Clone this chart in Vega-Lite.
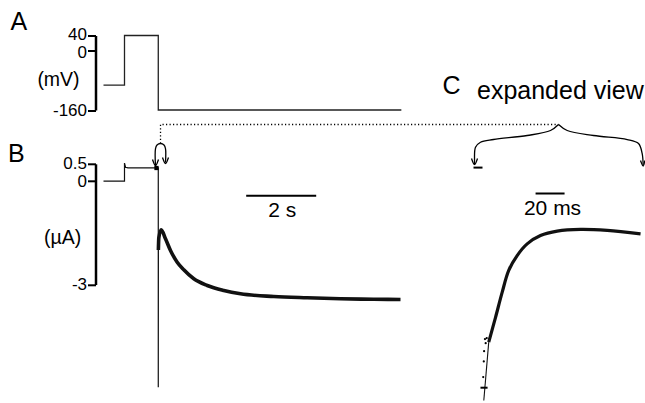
{
  "$schema": "https://vega.github.io/schema/vega-lite/v6.json",
  "padding": {"left": 7.5, "top": 9.5, "right": 0, "bottom": 0},
  "bounds": "flush",
  "spacing": 53.3,
  "config": {
    "view": {"stroke": null},
    "font": "Liberation Sans",
    "text": {"font": "Liberation Sans", "color": "black"},
    "axis": {
      "labelFont": "Liberation Sans", "labelFontSize": 17, "labelColor": "black",
      "titleFont": "Liberation Sans", "titleFontSize": 19.5, "titleFontWeight": "normal", "titleColor": "black",
      "tickSize": 8, "tickWidth": 2, "tickColor": "black",
      "domainWidth": 2.5, "domainColor": "black",
      "labelPadding": 1, "grid": false, "labelFlush": false, "labelOverlap": false, "labelSeparation": 0,
      "labelExpr": "toString(datum.value)"
    }
  },
  "datasets": {
    "a": [
      {"o": 1, "t": 0, "v": -93},
      {"o": 2, "t": 0.6, "v": -93},
      {"o": 3, "t": 0.6, "v": 40},
      {"o": 4, "t": 1.565, "v": 40},
      {"o": 5, "t": 1.565, "v": -160},
      {"o": 6, "t": 8.51, "v": -160}
    ],
    "lblA": [{"t": -2.657, "v": 56.1, "label": "A"}],
    "b": [
      {"part": "thin", "o": 1, "t": 0, "I": 0},
      {"part": "thin", "o": 2, "t": 0.6, "I": 0},
      {"part": "thin", "o": 3, "t": 0.6, "I": 0.52},
      {"part": "thin", "o": 4, "t": 0.63, "I": 0.4},
      {"part": "thin", "o": 5, "t": 0.7, "I": 0.38},
      {"part": "thin", "o": 6, "t": 1.565, "I": 0.38},
      {"part": "thin", "o": 7, "t": 1.565, "I": -5.975},
      {"part": "thin", "o": 8, "t": 1.568, "I": -2.0},
      {"part": "thick", "o": 1, "t": 1.568, "I": -2.0},
      {"part": "thick", "o": 2, "t": 1.58, "I": -1.65},
      {"part": "thick", "o": 3, "t": 1.649, "I": -1.413},
      {"part": "thick", "o": 4, "t": 1.771, "I": -1.674},
      {"part": "thick", "o": 5, "t": 1.914, "I": -2.013},
      {"part": "thick", "o": 6, "t": 2.106, "I": -2.352},
      {"part": "thick", "o": 7, "t": 2.294, "I": -2.572},
      {"part": "thick", "o": 8, "t": 2.58, "I": -2.833},
      {"part": "thick", "o": 9, "t": 2.963, "I": -3.028},
      {"part": "thick", "o": 10, "t": 3.437, "I": -3.172},
      {"part": "thick", "o": 11, "t": 3.914, "I": -3.268},
      {"part": "thick", "o": 12, "t": 4.866, "I": -3.346},
      {"part": "thick", "o": 13, "t": 5.82, "I": -3.384},
      {"part": "thick", "o": 14, "t": 6.771, "I": -3.413},
      {"part": "thick", "o": 15, "t": 7.723, "I": -3.425},
      {"part": "thick", "o": 16, "t": 8.486, "I": -3.433}
    ],
    "bdot": [{"t": 1.514, "I": 0.378}],
    "sbrace": [
      {"g": "arc", "o": 1, "t": 1.486, "I": 0.422},
      {"g": "arc", "o": 2, "t": 1.486, "I": 0.943},
      {"g": "arc", "o": 3, "t": 1.529, "I": 1.045},
      {"g": "arc", "o": 4, "t": 1.629, "I": 1.088},
      {"g": "arc", "o": 5, "t": 1.729, "I": 1.045},
      {"g": "arc", "o": 6, "t": 1.771, "I": 0.943},
      {"g": "arc", "o": 7, "t": 1.771, "I": 0.538},
      {"g": "al", "o": 1, "t": 1.4, "I": 0.625},
      {"g": "al", "o": 2, "t": 1.486, "I": 0.451},
      {"g": "al", "o": 3, "t": 1.571, "I": 0.625},
      {"g": "ar", "o": 1, "t": 1.686, "I": 0.683},
      {"g": "ar", "o": 2, "t": 1.771, "I": 0.509},
      {"g": "ar", "o": 3, "t": 1.857, "I": 0.683}
    ],
    "dotted": [
      {"o": 1, "t": 1.629, "I": 1.088},
      {"o": 2, "t": 1.629, "I": 1.639},
      {"o": 3, "t": 13.0, "I": 1.639}
    ],
    "bar2s": [{"t": 4.077, "t2": 6.077, "I": -0.4275}],
    "lblB": [
      {"t": -2.729, "I": 0.546, "label": "B", "kind": "letter"},
      {"t": 5.106, "I": -0.854, "label": "2 s", "kind": "scale"}
    ],
    "c": [
      {"part": "thin", "o": 1, "ms": 0, "I": -6.36},
      {"part": "thin", "o": 2, "ms": 3.4, "I": -4.67},
      {"part": "thick", "o": 1, "ms": 3.4, "I": -4.67},
      {"part": "thick", "o": 2, "ms": 8.1, "I": -3.95},
      {"part": "thick", "o": 3, "ms": 12.7, "I": -3.22},
      {"part": "thick", "o": 4, "ms": 17.2, "I": -2.59},
      {"part": "thick", "o": 5, "ms": 23.0, "I": -2.16},
      {"part": "thick", "o": 6, "ms": 29.9, "I": -1.82},
      {"part": "thick", "o": 7, "ms": 39.1, "I": -1.58},
      {"part": "thick", "o": 8, "ms": 50.6, "I": -1.45},
      {"part": "thick", "o": 9, "ms": 66.7, "I": -1.4},
      {"part": "thick", "o": 10, "ms": 85.1, "I": -1.43},
      {"part": "thick", "o": 11, "ms": 108.1, "I": -1.53}
    ],
    "cdots": [
      {"ms": 2.0, "I": -4.55},
      {"ms": 1.3, "I": -4.7},
      {"ms": 0.8, "I": -4.58},
      {"ms": 0.2, "I": -4.93},
      {"ms": 0.0, "I": -5.23},
      {"ms": -0.4, "I": -5.68}
    ],
    "cticks": [
      {"kind": "tick", "ms": -2.3, "ms2": 2.6, "I": -5.99},
      {"kind": "dash", "ms": -7.1, "ms2": -0.9, "I": 0.39},
      {"kind": "bar", "ms": 35.7, "ms2": 55.7, "I": -0.361}
    ],
    "bbrace": [
      {"g": "L", "o": 1, "ms": 51.52, "I": 1.639},
      {"g": "L", "o": 2, "ms": 46.0, "I": 1.465},
      {"g": "L", "o": 3, "ms": 29.93, "I": 1.32},
      {"g": "L", "o": 4, "ms": 6.69, "I": 1.204},
      {"g": "L", "o": 5, "ms": -2.28, "I": 1.126},
      {"g": "L", "o": 6, "ms": -5.72, "I": 0.981},
      {"g": "L", "o": 7, "ms": -6.41, "I": 0.596},
      {"g": "L", "o": 8, "ms": -6.41, "I": 0.48},
      {"g": "R", "o": 1, "ms": 51.52, "I": 1.639},
      {"g": "R", "o": 2, "ms": 57.52, "I": 1.465},
      {"g": "R", "o": 3, "ms": 75.66, "I": 1.32},
      {"g": "R", "o": 4, "ms": 98.9, "I": 1.204},
      {"g": "R", "o": 5, "ms": 106.7, "I": 1.088},
      {"g": "R", "o": 6, "ms": 109.2, "I": 0.799},
      {"g": "R", "o": 7, "ms": 109.9, "I": 0.45},
      {"g": "aL", "o": 1, "ms": -8.48, "I": 0.654},
      {"g": "aL", "o": 2, "ms": -6.41, "I": 0.48},
      {"g": "aL", "o": 3, "ms": -4.34, "I": 0.654},
      {"g": "aR", "o": 1, "ms": 108.07, "I": 0.596},
      {"g": "aR", "o": 2, "ms": 109.93, "I": 0.436},
      {"g": "aR", "o": 3, "ms": 111.0, "I": 0.596}
    ],
    "lblC": [
      {"ms": -28.5, "I": 2.529, "label": "C", "kind": "letter"},
      {"ms": 52.8, "I": 2.364, "label": "expanded view", "kind": "title"},
      {"ms": 47.4, "I": -0.796, "label": "20 ms", "kind": "scale"}
    ]
  },
  "vconcat": [
    {
      "width": 310,
      "height": 74.5,
      "layer": [
        {
          "data": {"name": "a"},
          "mark": {"type": "line", "strokeWidth": 1.3, "color": "#222222", "clip": false},
          "encoding": {
            "x": {"field": "t", "type": "quantitative", "scale": {"domain": [-0.22857, 8.62857], "nice": false, "zero": false}, "axis": null},
            "y": {"field": "v", "type": "quantitative", "scale": {"domain": [-160, 40], "nice": false, "zero": false},
                  "axis": {"values": [40, 0, -160], "tickCount": 10, "labelOverlap": false, "labelSeparation": 0,
                           "labelOffset": {"expr": "datum.value == 40 ? -1.3 : (datum.value == 0 ? 1.6 : 0)"},
                           "title": "(mV)", "titleAngle": 0, "titleX": -37.5, "titleY": 43.5, "titleAlign": "center", "titleBaseline": "middle"}},
            "order": {"field": "o", "type": "quantitative"}
          }
        },
        {
          "data": {"name": "lblA"},
          "mark": {"type": "text", "align": "left", "baseline": "alphabetic", "fontSize": 25, "clip": false},
          "encoding": {
            "x": {"field": "t", "type": "quantitative", "axis": null},
            "y": {"field": "v", "type": "quantitative"},
            "text": {"field": "label", "type": "nominal"}
          }
        }
      ]
    },
    {
      "width": 310,
      "height": 120.75,
      "layer": [
        {
          "layer": [
            {
              "data": {"name": "b"},
              "transform": [{"filter": "datum.part === 'thin'"}],
              "mark": {"type": "line", "strokeWidth": 1.2, "color": "#111111", "clip": false},
              "encoding": {
                "x": {"field": "t", "type": "quantitative", "scale": {"domain": [-0.22857, 8.62857], "nice": false, "zero": false}, "axis": null},
                "y": {"field": "I", "type": "quantitative", "scale": {"domain": [-3, 0.5], "nice": false, "zero": false},
                      "axis": {"values": [0.5, 0, -3], "tickCount": 10, "labelOverlap": false, "labelSeparation": 0, "title": "(µA)", "titleAngle": 0, "titleX": -33.3, "titleY": 73.4, "titleAlign": "center", "titleBaseline": "middle"}},
                "order": {"field": "o", "type": "quantitative"}
              }
            },
            {
              "data": {"name": "b"},
              "transform": [{"filter": "datum.part === 'thick'"}],
              "mark": {"type": "line", "strokeWidth": 3.6, "color": "#111111", "clip": false, "interpolate": "monotone"},
              "encoding": {
                "x": {"field": "t", "type": "quantitative", "axis": null},
                "y": {"field": "I", "type": "quantitative"},
                "order": {"field": "o", "type": "quantitative"}
              }
            },
            {
              "data": {"name": "bdot"},
              "mark": {"type": "point", "shape": "square", "filled": true, "size": 18, "color": "black", "opacity": 1, "clip": false},
              "encoding": {
                "x": {"field": "t", "type": "quantitative", "axis": null},
                "y": {"field": "I", "type": "quantitative"}
              }
            },
            {
              "data": {"name": "sbrace"},
              "mark": {"type": "line", "strokeWidth": 1.3, "color": "black", "clip": false, "interpolate": "catmull-rom"},
              "encoding": {
                "x": {"field": "t", "type": "quantitative", "axis": null},
                "y": {"field": "I", "type": "quantitative"},
                "detail": {"field": "g", "type": "nominal"},
                "order": {"field": "o", "type": "quantitative"}
              }
            },
            {
              "data": {"name": "dotted"},
              "mark": {"type": "line", "strokeWidth": 1.3, "color": "black", "strokeDash": [1.2, 2.3], "clip": false},
              "encoding": {
                "x": {"field": "t", "type": "quantitative", "axis": null},
                "y": {"field": "I", "type": "quantitative"},
                "order": {"field": "o", "type": "quantitative"}
              }
            },
            {
              "data": {"name": "bar2s"},
              "mark": {"type": "rule", "strokeWidth": 2, "color": "black", "clip": false},
              "encoding": {
                "x": {"field": "t", "type": "quantitative", "axis": null},
                "x2": {"field": "t2"},
                "y": {"field": "I", "type": "quantitative"}
              }
            },
            {
              "data": {"name": "lblB"},
              "transform": [{"filter": "datum.kind === 'letter'"}],
              "mark": {"type": "text", "align": "left", "baseline": "alphabetic", "fontSize": 25, "clip": false},
              "encoding": {
                "x": {"field": "t", "type": "quantitative", "axis": null},
                "y": {"field": "I", "type": "quantitative"},
                "text": {"field": "label", "type": "nominal"}
              }
            },
            {
              "data": {"name": "lblB"},
              "transform": [{"filter": "datum.kind === 'scale'"}],
              "mark": {"type": "text", "align": "center", "baseline": "middle", "fontSize": 21, "clip": false},
              "encoding": {
                "x": {"field": "t", "type": "quantitative", "axis": null},
                "y": {"field": "I", "type": "quantitative"},
                "text": {"field": "label", "type": "nominal"}
              }
            }
          ]
        },
        {
          "layer": [
            {
              "data": {"name": "c"},
              "transform": [{"filter": "datum.part === 'thin'"}],
              "mark": {"type": "line", "strokeWidth": 1.1, "color": "#111111", "clip": false},
              "encoding": {
                "x": {"field": "ms", "type": "quantitative", "scale": {"domain": [-267.79, -54.0], "nice": false, "zero": false}, "axis": null},
                "y": {"field": "I", "type": "quantitative"},
                "order": {"field": "o", "type": "quantitative"}
              }
            },
            {
              "data": {"name": "c"},
              "transform": [{"filter": "datum.part === 'thick'"}],
              "mark": {"type": "line", "strokeWidth": 3.2, "color": "#111111", "clip": false, "interpolate": "catmull-rom"},
              "encoding": {
                "x": {"field": "ms", "type": "quantitative", "axis": null},
                "y": {"field": "I", "type": "quantitative"},
                "order": {"field": "o", "type": "quantitative"}
              }
            },
            {
              "data": {"name": "cdots"},
              "mark": {"type": "circle", "size": 5, "color": "black", "opacity": 1, "clip": false},
              "encoding": {
                "x": {"field": "ms", "type": "quantitative", "axis": null},
                "y": {"field": "I", "type": "quantitative"}
              }
            },
            {
              "data": {"name": "cticks"},
              "mark": {"type": "rule", "strokeWidth": 2, "color": "black", "clip": false},
              "encoding": {
                "x": {"field": "ms", "type": "quantitative", "axis": null},
                "x2": {"field": "ms2"},
                "y": {"field": "I", "type": "quantitative"}
              }
            },
            {
              "data": {"name": "bbrace"},
              "mark": {"type": "line", "strokeWidth": 1.3, "color": "black", "clip": false, "interpolate": "catmull-rom"},
              "encoding": {
                "x": {"field": "ms", "type": "quantitative", "axis": null},
                "y": {"field": "I", "type": "quantitative"},
                "detail": {"field": "g", "type": "nominal"},
                "order": {"field": "o", "type": "quantitative"}
              }
            },
            {
              "data": {"name": "lblC"},
              "transform": [{"filter": "datum.kind === 'letter'"}],
              "mark": {"type": "text", "align": "left", "baseline": "alphabetic", "fontSize": 25, "clip": false},
              "encoding": {
                "x": {"field": "ms", "type": "quantitative", "axis": null},
                "y": {"field": "I", "type": "quantitative"},
                "text": {"field": "label", "type": "nominal"}
              }
            },
            {
              "data": {"name": "lblC"},
              "transform": [{"filter": "datum.kind === 'title'"}],
              "mark": {"type": "text", "align": "center", "baseline": "alphabetic", "fontSize": 25, "clip": false},
              "encoding": {
                "x": {"field": "ms", "type": "quantitative", "axis": null},
                "y": {"field": "I", "type": "quantitative"},
                "text": {"field": "label", "type": "nominal"}
              }
            },
            {
              "data": {"name": "lblC"},
              "transform": [{"filter": "datum.kind === 'scale'"}],
              "mark": {"type": "text", "align": "center", "baseline": "middle", "fontSize": 21, "clip": false},
              "encoding": {
                "x": {"field": "ms", "type": "quantitative", "axis": null},
                "y": {"field": "I", "type": "quantitative"},
                "text": {"field": "label", "type": "nominal"}
              }
            }
          ]
        }
      ],
      "resolve": {"scale": {"x": "independent"}}
    }
  ]
}
